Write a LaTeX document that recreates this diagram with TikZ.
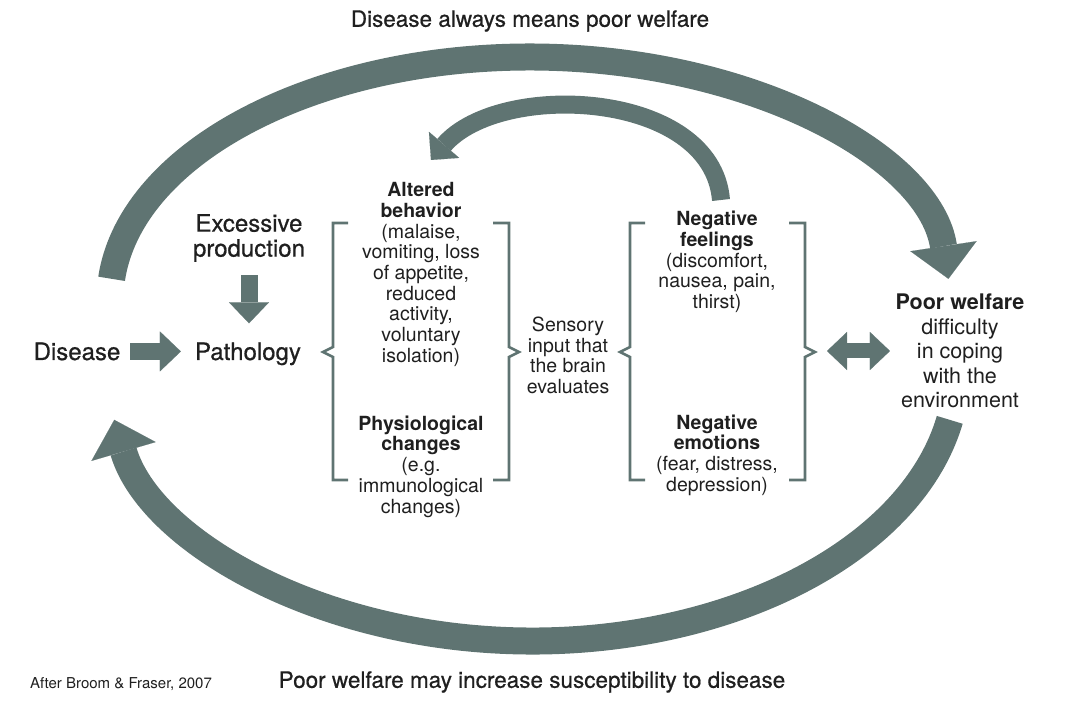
\documentclass[tikz,border=0pt]{standalone}
\usepackage{fontspec}
\setmainfont{TeX Gyre Heros}
\newfontfamily\medfont{TeX Gyre Heros}[FakeBold=0.6]
\usetikzlibrary{arrows.meta}
\definecolor{slate}{RGB}{95,116,114}

\begin{document}
\begin{tikzpicture}[x=1pt, y=1pt, every node/.style={inner sep=0pt, text=black!88},
	big/.style={font=\medfont\fontsize{24}{25}\selectfont},
	caption/.style={font=\medfont\fontsize{22.5}{24}\selectfont},
	body/.style={align=center, font=\fontsize{19.5}{20.7}\selectfont},
	band/.style={slate, line width=27pt, -{Triangle[length=33pt, width=67pt, line width=0.1pt]}},
	fat/.style={slate, line width=17pt, -{Triangle[length=21pt, width=40pt, line width=0.1pt]}},
	brk/.style={slate, line width=2.6pt}]
	\useasboundingbox (0,0) rectangle (1069,705);
	% texts
	\node[caption] (title) at (530,684) {Disease always means poor welfare};
	\node[big, anchor=base] (disease) at (77,345) {Disease};
	\node[big, anchor=base] (patho) at (248,345) {Pathology};
	\node[big, align=center] (excess) at (249,467) {Excessive\\production};
	\node[body] (altered) at (421,430.5) {\textbf{Altered}\\\textbf{behavior}\\(malaise,\\vomiting, loss\\of appetite,\\reduced\\activity,\\voluntary\\isolation)};
	\node[body] (physio) at (421,238.5) {\textbf{Physiological}\\\textbf{changes}\\(e.g.\\immunological\\changes)};
	\node[body] (sensory) at (568,349.5) {Sensory\\input that\\the brain\\evaluates};
	\node[body] (feel) at (717,443) {\textbf{Negative}\\\textbf{feelings}\\(discomfort,\\nausea, pain,\\thirst)};
	\node[body] (emo) at (717,250) {\textbf{Negative}\\\textbf{emotions}\\(fear, distress,\\depression)};
	\node[align=center, font=\fontsize{21.5}{24.5}\selectfont] (welfare) at (960,354) {\textbf{Poor welfare}\\difficulty\\in coping\\with the\\environment};
	\node[caption] (susc) at (532,23) {Poor welfare may increase susceptibility to disease};
	\node[font=\fontsize{15}{16}\selectfont] (source) at (121,21) {After Broom \& Fraser, 2007};
	% brackets
	\foreach \l/\r in {333/509, 630/805} {
		\draw[brk] (\l+15,482) -- (\l,482) -- (\l,358) -- (\l-10,353) -- (\l,348) -- (\l,225) -- (\l+15,225);
		\draw[brk] (\r-16,482) -- (\r,482) -- (\r,358) -- (\r+10,353) -- (\r,348) -- (\r,225) -- (\r-16,225);
	}
	\coordinate (rbr) at (815,354);
	% big loops
	\coordinate (topc) at (530,405);
	\coordinate (botc) at (532,335);
	\draw[band] ([shift={(175:420 and 243)}]topc) arc[start angle=175, end angle=5, x radius=420, y radius=243];
	\draw[band] ([shift={(-10.6:425 and 271)}]botc) arc[start angle=-10.6, end angle=-169.4, x radius=425, y radius=271];
	% feedback arrow
	\coordinate (fbtail) at (721,505);
	\coordinate (fbtip) at (431,545);
	\draw[slate, line width=18pt, -{Triangle[length=20pt, width=40pt, line width=0.1pt]}] (fbtail) .. controls (712,615) and (500,625) .. (fbtip);
	% short arrows
	\draw[fat, shorten <=9.5pt, shorten >=14pt] (disease.east) -- (disease.east -| patho.west);
	\draw[fat, shorten <=13pt, shorten >=19pt] (excess.south) -- (excess.south |- patho.north);
	\draw[slate, line width=15pt, {Triangle[length=20pt, width=38pt, line width=0.1pt]}-{Triangle[length=20pt, width=38pt, line width=0.1pt]}, shorten <=12pt, shorten >=5.5pt] (rbr) -- (rbr -| welfare.west);
\end{tikzpicture}
\end{document}
